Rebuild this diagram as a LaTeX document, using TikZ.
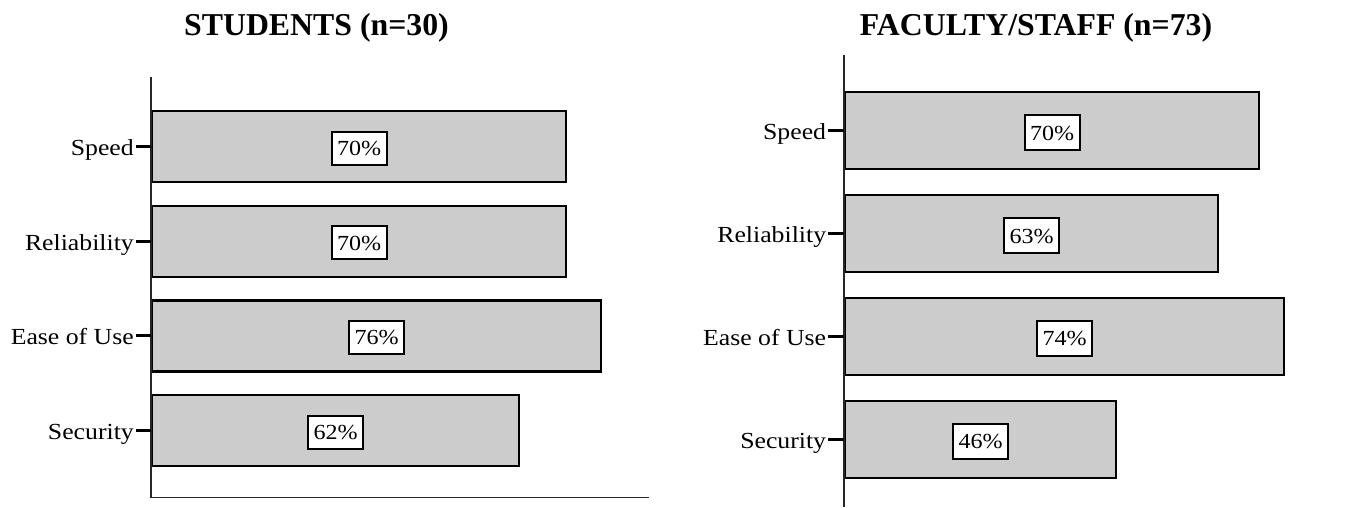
\documentclass[tikz,border=0pt]{standalone}
\usepackage{fontspec}
\setmainfont{Liberation Serif}
\newfontfamily\lblfont[FakeStretch=1.12]{Liberation Serif}
\tikzset{
  bar/.style={draw=black, line width=2.2pt, fill=barfill, inner sep=0pt, anchor=north west},
  valbox/.style={draw=black, line width=1.8pt, fill=white, inner xsep=0pt, inner ysep=0pt,
    font=\lblfont\fontsize{21.5}{24}\selectfont, minimum width=55pt, text height=15pt, text depth=0pt},
  axisline/.style={line width=1.3pt, draw=black!85},
  tickmark/.style={line width=3pt, draw=black},
  catlabel/.style={font=\lblfont\fontsize{23}{26}\selectfont, anchor=base east, inner sep=0pt},
  charttitle/.style={font=\bfseries\fontsize{31.8}{36}\selectfont, anchor=base, inner sep=0pt}
}
\definecolor{barfill}{HTML}{CCCCCC}
\begin{document}
\begin{tikzpicture}[x=1pt, y=-1pt]
\useasboundingbox (0,0) rectangle (1348,507);

% ---------- Students ----------
\node[charttitle] (tL) at (316.5,35.5) {STUDENTS (n=30)};
\coordinate (aLtop) at (151,77.3);
\coordinate (aLbot) at (151,497.5);
\coordinate (aLend) at (648.5,497.5);

\node[bar, minimum width=414pt, minimum height=71pt] (sL1) at (151,110) {};
\node[bar, minimum width=414pt, minimum height=71pt] (sL2) at (151,204.7) {};
\node[bar, minimum width=449pt, minimum height=71pt] (sL3) at (151,299.3) {};
\node[bar, minimum width=367pt, minimum height=71pt] (sL4) at (151,394) {};

\draw[axisline] (aLtop) -- (aLbot) -- (aLend);

\foreach \b/\t/\v in {sL1/Speed/70, sL2/Reliability/70, sL3/Ease of Use/76, sL4/Security/62}{
  \node[valbox, minimum height=33pt] (\b v) at ([yshift=-1.5pt]\b.center) {\v\%};
  \coordinate (\b t) at ([xshift=-15pt]\b.west);
  \draw[tickmark] (\b t) -- (\b.west);
  \node[catlabel] (\b l) at ([xshift=-2pt, yshift=-9pt]\b t) {\t};
}

% ---------- Faculty / Staff ----------
\node[charttitle] (tR) at (1036,35.5) {FACULTY/STAFF (n=73)};
\coordinate (aRtop) at (844,55);
\coordinate (aRbot) at (844,507);

\node[bar, minimum width=414pt, minimum height=77pt] (sR1) at (844,91) {};
\node[bar, minimum width=373pt, minimum height=77pt] (sR2) at (844,194) {};
\node[bar, minimum width=439pt, minimum height=77pt] (sR3) at (844,296.7) {};
\node[bar, minimum width=271pt, minimum height=77pt] (sR4) at (844,399.5) {};

\draw[axisline] (aRtop) -- (aRbot);

\foreach \b/\t/\v in {sR1/Speed/70, sR2/Reliability/63, sR3/Ease of Use/74, sR4/Security/46}{
  \node[valbox, minimum height=35pt] (\b v) at ([yshift=-2pt]\b.center) {\v\%};
  \coordinate (\b t) at ([xshift=-15.7pt]\b.west);
  \draw[tickmark] (\b t) -- (\b.west);
  \node[catlabel] (\b l) at ([xshift=-2pt, yshift=-9pt]\b t) {\t};
}
\end{tikzpicture}
\end{document}
